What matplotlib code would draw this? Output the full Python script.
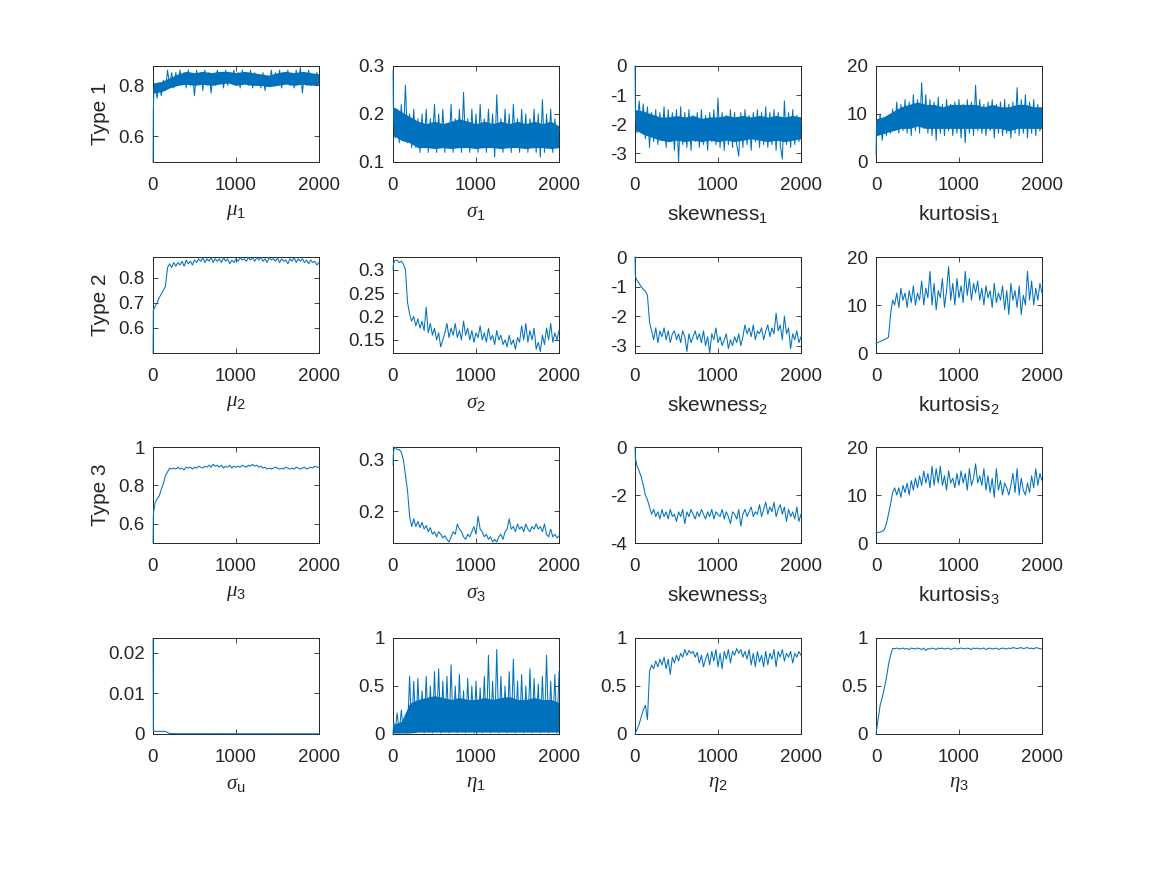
import numpy as np
import matplotlib
matplotlib.use('Agg')
import matplotlib.pyplot as plt
from matplotlib.ticker import FuncFormatter

plt.rcParams['font.family'] = ['Liberation Sans', 'DejaVu Sans']
plt.rcParams['mathtext.fontset'] = 'custom'
plt.rcParams['mathtext.rm'] = 'Liberation Sans'
plt.rcParams['mathtext.sf'] = 'Liberation Sans'
plt.rcParams['mathtext.it'] = 'Liberation Serif:italic'
plt.rcParams['axes.unicode_minus'] = False

# iteration index of each stored sample (dense at the start, then every 25)
iters = np.r_[1, 4, 10, np.arange(25, 2001, 25)]
# coarser grid for the dense core of the very noisy chains
band_iters = np.r_[5, np.arange(100, 2001, 100)]

# ---- Type 1 ----
mu1 = [0.50, 0.70, 0.78,
       0.80, 0.75, 0.81, 0.76, 0.82, 0.78, 0.86, 0.80, 0.85, 0.79,
       0.85, 0.80, 0.86, 0.81, 0.85, 0.79, 0.86, 0.80, 0.84, 0.76,
       0.86, 0.81, 0.85, 0.78, 0.86, 0.80, 0.85, 0.77, 0.84, 0.80,
       0.86, 0.81, 0.85, 0.79, 0.86, 0.80, 0.84, 0.81, 0.86, 0.80,
       0.85, 0.79, 0.86, 0.81, 0.84, 0.80, 0.86, 0.79, 0.85, 0.81,
       0.84, 0.79, 0.85, 0.78, 0.83, 0.80, 0.86, 0.81, 0.85, 0.80,
       0.86, 0.79, 0.85, 0.81, 0.86, 0.80, 0.84, 0.79, 0.86, 0.81,
       0.87, 0.77, 0.85, 0.80, 0.86, 0.81, 0.84, 0.80, 0.85, 0.82]
mu1_lo = [0.77, 0.775, 0.79, 0.80, 0.805, 0.80, 0.805, 0.80, 0.805, 0.81, 0.80,
          0.805, 0.80, 0.80, 0.795, 0.80, 0.805, 0.80, 0.805, 0.80, 0.805]
mu1_hi = [0.81, 0.815, 0.83, 0.845, 0.855, 0.85, 0.855, 0.85, 0.855, 0.855, 0.85,
          0.855, 0.85, 0.845, 0.84, 0.85, 0.855, 0.85, 0.855, 0.85, 0.845]
sigma1 = [0.29, 0.22, 0.19,
          0.15, 0.21, 0.14, 0.22, 0.15, 0.26, 0.14, 0.20, 0.13, 0.21,
          0.13, 0.19, 0.12, 0.20, 0.13, 0.21, 0.12, 0.19, 0.14, 0.22,
          0.12, 0.20, 0.13, 0.21, 0.12, 0.18, 0.13, 0.22, 0.12, 0.19,
          0.13, 0.21, 0.12, 0.245, 0.13, 0.19, 0.12, 0.21, 0.13, 0.20,
          0.12, 0.22, 0.13, 0.19, 0.12, 0.21, 0.13, 0.20, 0.11, 0.24,
          0.13, 0.19, 0.12, 0.21, 0.13, 0.20, 0.12, 0.22, 0.13, 0.19,
          0.12, 0.21, 0.13, 0.20, 0.12, 0.19, 0.13, 0.21, 0.12, 0.20,
          0.11, 0.23, 0.12, 0.20, 0.13, 0.21, 0.12, 0.19, 0.13, 0.17]
sigma1_lo = [0.155, 0.145, 0.14, 0.13, 0.13, 0.128, 0.13, 0.128, 0.13, 0.13, 0.128,
             0.13, 0.13, 0.128, 0.13, 0.13, 0.128, 0.13, 0.13, 0.128, 0.13]
sigma1_hi = [0.215, 0.205, 0.195, 0.185, 0.18, 0.185, 0.18, 0.185, 0.19, 0.185, 0.18,
             0.185, 0.18, 0.185, 0.18, 0.185, 0.18, 0.185, 0.18, 0.185, 0.175]
skew1 = [0.0, -1.3, -1.8,
         -2.3, -1.2, -2.1, -1.3, -2.5, -1.4, -2.8, -1.6, -2.6, -1.5,
         -2.7, -1.6, -2.5, -1.4, -2.8, -1.5, -2.6, -1.6, -2.9, -1.5,
         -3.3, -1.4, -2.7, -1.6, -2.8, -1.5, -2.9, -1.7, -2.6, -1.6,
         -2.8, -1.5, -2.7, -1.7, -2.9, -1.6, -2.6, -1.5, -2.7, -1.1,
         -2.8, -1.6, -2.9, -1.7, -2.7, -1.5, -2.8, -1.6, -2.7, -3.1,
         -1.6, -2.8, -1.5, -2.7, -1.7, -2.9, -1.6, -2.6, -1.5, -2.8,
         -1.6, -2.7, -1.4, -2.8, -1.6, -2.7, -1.5, -2.9, -1.6, -2.7,
         -3.2, -1.2, -2.7, -1.6, -2.8, -1.5, -2.7, -1.7, -2.6, -1.9]
skew1_lo = [-2.2, -2.35, -2.45, -2.55, -2.6, -2.55, -2.6, -2.55, -2.6, -2.55, -2.6,
            -2.55, -2.6, -2.55, -2.5, -2.55, -2.6, -2.55, -2.6, -2.55, -2.5]
skew1_hi = [-1.5, -1.55, -1.65, -1.75, -1.75, -1.7, -1.75, -1.7, -1.8, -1.75, -1.75,
            -1.7, -1.75, -1.7, -1.75, -1.7, -1.75, -1.7, -1.75, -1.7, -1.75]
kurt1 = [1.5, 6.0, 8.5,
         5.5, 10.0, 4.5, 8.5, 5.5, 9.0, 6.0, 11.0, 6.5, 12.5,
         6.0, 12.0, 6.5, 13.0, 6.0, 12.5, 5.5, 14.0, 6.5, 13.0,
         6.0, 16.5, 7.0, 14.0, 6.0, 13.0, 5.5, 12.5, 4.5, 13.5,
         6.0, 12.0, 5.5, 13.0, 6.5, 12.0, 5.5, 12.5, 6.0, 13.0,
         5.0, 12.0, 4.0, 13.0, 6.0, 12.5, 5.5, 16.0, 6.5, 13.0,
         6.0, 12.0, 5.5, 12.5, 6.5, 13.0, 5.0, 12.0, 6.0, 12.5,
         5.5, 13.0, 6.0, 12.0, 5.0, 12.5, 6.0, 15.5, 5.5, 13.0,
         6.0, 14.0, 5.0, 12.5, 6.0, 13.0, 5.5, 12.0, 6.5, 10.0]
kurt1_lo = [5.5, 6.0, 6.5, 7.0, 7.0, 7.5, 7.0, 7.0, 7.0, 7.0, 7.0,
            7.0, 7.0, 7.0, 7.0, 7.0, 6.5, 7.0, 7.0, 7.0, 7.0]
kurt1_hi = [9.0, 9.5, 10.5, 11.5, 12.0, 12.5, 12.0, 12.0, 11.5, 12.0, 12.0,
            12.0, 12.0, 11.5, 12.0, 11.5, 11.5, 12.0, 12.0, 11.5, 11.5]

# ---- Type 2 ----
mu2 = [0.50, 0.67, 0.675,
       0.685, 0.70, 0.72, 0.735, 0.75, 0.765, 0.84, 0.855, 0.84, 0.86,
       0.845, 0.86, 0.85, 0.865, 0.845, 0.87, 0.855, 0.865, 0.85, 0.87,
       0.86, 0.875, 0.865, 0.88, 0.86, 0.875, 0.865, 0.88, 0.86, 0.875,
       0.865, 0.875, 0.86, 0.88, 0.865, 0.875, 0.855, 0.87, 0.86, 0.875,
       0.865, 0.88, 0.87, 0.875, 0.865, 0.88, 0.87, 0.88, 0.865, 0.88,
       0.87, 0.88, 0.865, 0.875, 0.86, 0.88, 0.87, 0.875, 0.865, 0.88,
       0.86, 0.875, 0.865, 0.87, 0.855, 0.875, 0.865, 0.88, 0.86, 0.875,
       0.865, 0.875, 0.86, 0.87, 0.855, 0.87, 0.86, 0.865, 0.85, 0.86]
sigma2 = [0.300, 0.310, 0.315,
          0.320, 0.320, 0.315, 0.318, 0.312, 0.300, 0.230, 0.205, 0.190, 0.200,
          0.180, 0.195, 0.175, 0.190, 0.170, 0.220, 0.165, 0.185, 0.160, 0.175,
          0.150, 0.165, 0.135, 0.150, 0.165, 0.185, 0.155, 0.175, 0.160, 0.185,
          0.155, 0.170, 0.150, 0.190, 0.160, 0.175, 0.150, 0.170, 0.145, 0.165,
          0.155, 0.180, 0.150, 0.165, 0.145, 0.175, 0.150, 0.160, 0.140, 0.170,
          0.150, 0.160, 0.140, 0.150, 0.135, 0.160, 0.140, 0.150, 0.130, 0.155,
          0.145, 0.180, 0.150, 0.185, 0.145, 0.170, 0.150, 0.175, 0.130, 0.145,
          0.125, 0.160, 0.140, 0.175, 0.150, 0.185, 0.145, 0.165, 0.150, 0.170]
skew2 = [0.0, -0.6, -0.7,
         -0.8, -0.9, -1.0, -1.1, -1.15, -1.3, -2.2, -2.5, -2.8, -2.4,
         -2.9, -2.5, -2.7, -2.4, -2.8, -2.5, -2.9, -2.6, -2.5, -2.8,
         -2.6, -2.9, -2.5, -2.7, -3.2, -2.6, -2.9, -2.7, -2.5, -2.8,
         -2.6, -2.9, -2.5, -3.0, -2.7, -3.25, -2.6, -2.8, -2.4, -2.9,
         -2.7, -3.0, -2.8, -2.6, -3.1, -2.8, -3.0, -2.7, -2.9, -2.6,
         -3.0, -2.7, -2.3, -2.6, -2.4, -2.7, -2.3, -2.8, -2.5, -2.6,
         -2.4, -2.8, -2.5, -2.3, -2.7, -2.4, -2.6, -1.9, -2.5, -2.3,
         -2.8, -2.0, -2.6, -2.4, -3.1, -2.6, -2.8, -2.5, -2.9, -2.7]
kurt2 = [2.0, 2.0, 2.1,
         2.2, 2.4, 2.6, 2.8, 3.0, 3.3, 8.0, 11.0, 10.0, 12.5,
         9.5, 13.5, 11.0, 12.5, 9.5, 13.0, 10.5, 14.0, 10.0, 12.5,
         11.0, 15.0, 10.0, 13.5, 11.5, 17.0, 10.0, 14.5, 9.0, 13.0,
         11.5, 15.5, 9.5, 13.0, 18.0, 11.0, 14.5, 10.0, 15.5, 11.5,
         14.0, 10.5, 17.0, 12.0, 15.5, 11.0, 14.5, 12.5, 15.0, 11.0,
         13.5, 10.0, 14.0, 11.5, 13.0, 9.5, 14.5, 10.5, 12.5, 11.0,
         14.0, 9.0, 13.0, 8.0, 14.5, 11.0, 13.0, 9.5, 14.0, 8.0,
         12.0, 10.0, 17.0, 11.0, 15.0, 10.0, 13.5, 11.0, 14.5, 12.5]

# ---- Type 3 ----
mu3 = [0.50, 0.64, 0.67,
       0.71, 0.73, 0.745, 0.78, 0.81, 0.85, 0.87, 0.89, 0.885, 0.89,
       0.885, 0.895, 0.885, 0.89, 0.88, 0.895, 0.89, 0.895, 0.885, 0.895,
       0.89, 0.90, 0.895, 0.89, 0.90, 0.895, 0.905, 0.895, 0.91, 0.90,
       0.905, 0.895, 0.905, 0.89, 0.90, 0.895, 0.905, 0.89, 0.90, 0.895,
       0.90, 0.895, 0.905, 0.90, 0.895, 0.905, 0.90, 0.91, 0.90, 0.905,
       0.895, 0.90, 0.89, 0.895, 0.885, 0.89, 0.885, 0.89, 0.895, 0.89,
       0.885, 0.89, 0.885, 0.895, 0.89, 0.885, 0.89, 0.885, 0.895, 0.89,
       0.885, 0.89, 0.895, 0.885, 0.89, 0.895, 0.89, 0.90, 0.895, 0.895]
sigma3 = [0.29, 0.31, 0.32,
          0.325, 0.32, 0.32, 0.315, 0.30, 0.27, 0.24, 0.19, 0.170, 0.185,
          0.170, 0.180, 0.168, 0.178, 0.165, 0.172, 0.160, 0.168, 0.155, 0.160,
          0.150, 0.160, 0.155, 0.148, 0.152, 0.145, 0.140, 0.150, 0.160, 0.155,
          0.175, 0.165, 0.160, 0.150, 0.145, 0.155, 0.150, 0.160, 0.170, 0.155,
          0.190, 0.165, 0.160, 0.150, 0.155, 0.145, 0.150, 0.140, 0.145, 0.140,
          0.150, 0.155, 0.145, 0.160, 0.165, 0.185, 0.165, 0.170, 0.160, 0.175,
          0.165, 0.170, 0.160, 0.175, 0.165, 0.160, 0.170, 0.165, 0.175, 0.165,
          0.170, 0.160, 0.175, 0.155, 0.150, 0.165, 0.150, 0.155, 0.148, 0.152]
skew3 = [0.0, -0.45, -0.55,
         -0.8, -1.0, -1.25, -1.6, -2.0, -2.2, -2.5, -2.8, -2.6, -2.9,
         -2.7, -3.0, -2.6, -2.9, -2.7, -3.0, -2.6, -2.9, -2.8, -3.1,
         -2.7, -2.9, -2.6, -3.2, -2.7, -2.9, -2.6, -2.8, -3.0, -2.7,
         -2.9, -2.6, -2.8, -3.0, -2.7, -2.9, -2.6, -3.0, -2.7, -2.8,
         -2.9, -2.6, -3.0, -2.7, -2.9, -3.2, -2.7, -2.8, -3.0, -2.6,
         -3.3, -2.8, -2.6, -2.9, -2.7, -2.5, -2.9, -2.7, -2.8, -2.4,
         -2.9, -2.6, -2.3, -2.8, -2.5, -2.7, -2.3, -2.9, -2.6, -2.4,
         -2.8, -2.5, -3.1, -2.6, -2.9, -2.7, -3.0, -2.5, -3.1, -2.8]
kurt3 = [2.0, 2.0, 2.1,
         2.2, 2.3, 2.4, 2.8, 4.0, 6.0, 8.0, 10.5, 11.5, 10.0,
         11.5, 9.5, 12.0, 10.5, 12.5, 10.0, 13.0, 11.0, 13.5, 11.5,
         14.0, 12.0, 15.0, 12.5, 14.5, 11.5, 16.0, 12.0, 15.5, 12.5,
         16.0, 12.0, 14.0, 11.0, 15.0, 12.5, 13.5, 11.5, 14.5, 12.0,
         15.0, 12.5, 14.5, 11.0, 15.5, 12.0, 13.5, 16.5, 12.5, 14.0,
         12.0, 15.5, 11.0, 14.0, 10.5, 13.5, 9.5, 15.5, 11.0, 13.0,
         10.0, 12.5, 11.5, 10.0, 12.0, 14.5, 10.5, 15.5, 10.0, 13.5,
         11.0, 10.0, 12.5, 10.5, 14.0, 11.5, 15.5, 12.0, 14.5, 13.0]

# ---- shared parameters ----
sigma_u = [0.0235, 0.0008, 0.0007,
           0.0007, 0.0006, 0.0007, 0.0006, 0.0007, 0.0006, 0.0004, 0.0001, 0.0001, 0.0001,
           0.00010, 0.00008, 0.00009, 0.00007, 0.00008, 0.00010, 0.00008, 0.00007, 0.00009, 0.00008,
           0.00007, 0.00008, 0.00006, 0.00008, 0.00007, 0.00009, 0.00007, 0.00008, 0.00006, 0.00007,
           0.00008, 0.00007, 0.00006, 0.00008, 0.00007, 0.00006, 0.00007, 0.00008, 0.00006, 0.00007,
           0.00006, 0.00007, 0.00008, 0.00006, 0.00007, 0.00006, 0.00007, 0.00006, 0.00008, 0.00007,
           0.00006, 0.00007, 0.00006, 0.00007, 0.00008, 0.00006, 0.00007, 0.00006, 0.00007, 0.00006,
           0.00007, 0.00006, 0.00007, 0.00006, 0.00005, 0.00007, 0.00006, 0.00007, 0.00006, 0.00005,
           0.00006, 0.00007, 0.00006, 0.00005, 0.00006, 0.00007, 0.00006, 0.00005, 0.00006, 0.00006]
eta1 = [0.0, 0.05, 0.12,
        0.02, 0.22, 0.01, 0.25, 0.03, 0.20, 0.01, 0.60, 0.02, 0.55,
        0.01, 0.58, 0.03, 0.45, 0.01, 0.60, 0.02, 0.50, 0.01, 0.65,
        0.03, 0.68, 0.01, 0.55, 0.02, 0.60, 0.01, 0.72, 0.03, 0.50,
        0.01, 0.62, 0.02, 0.45, 0.01, 0.58, 0.03, 0.50, 0.01, 0.55,
        0.02, 0.48, 0.01, 0.60, 0.03, 0.82, 0.01, 0.55, 0.02, 0.88,
        0.01, 0.60, 0.03, 0.50, 0.01, 0.65, 0.02, 0.78, 0.01, 0.55,
        0.03, 0.62, 0.01, 0.50, 0.02, 0.68, 0.01, 0.58, 0.03, 0.52,
        0.01, 0.60, 0.02, 0.82, 0.01, 0.55, 0.02, 0.62, 0.01, 0.65]
eta1_lo = [0.01, 0.01, 0.01, 0.02, 0.02, 0.02, 0.02, 0.02, 0.02, 0.02, 0.02,
           0.02, 0.02, 0.02, 0.02, 0.02, 0.02, 0.02, 0.02, 0.02, 0.02]
eta1_hi = [0.10, 0.13, 0.32, 0.36, 0.38, 0.40, 0.38, 0.36, 0.38, 0.36, 0.36,
           0.38, 0.36, 0.38, 0.39, 0.36, 0.36, 0.38, 0.36, 0.36, 0.33]
eta2 = [0.0, 0.01, 0.02,
        0.05, 0.10, 0.18, 0.25, 0.30, 0.15, 0.65, 0.72, 0.68, 0.76,
        0.70, 0.78, 0.72, 0.80, 0.68, 0.78, 0.62, 0.80, 0.74, 0.82,
        0.76, 0.84, 0.80, 0.88, 0.82, 0.87, 0.84, 0.86, 0.80, 0.85,
        0.74, 0.82, 0.70, 0.78, 0.84, 0.72, 0.86, 0.76, 0.88, 0.70,
        0.84, 0.68, 0.86, 0.78, 0.88, 0.74, 0.86, 0.82, 0.89, 0.84,
        0.88, 0.80, 0.86, 0.78, 0.88, 0.72, 0.84, 0.70, 0.86, 0.75,
        0.82, 0.70, 0.86, 0.72, 0.84, 0.78, 0.88, 0.70, 0.86, 0.80,
        0.88, 0.76, 0.84, 0.80, 0.86, 0.74, 0.84, 0.80, 0.86, 0.82]
eta3 = [0.0, 0.02, 0.06,
        0.15, 0.30, 0.38, 0.48, 0.58, 0.72, 0.82, 0.89, 0.89, 0.895,
        0.885, 0.89, 0.895, 0.885, 0.89, 0.88, 0.895, 0.89, 0.885, 0.895,
        0.89, 0.88, 0.895, 0.87, 0.89, 0.885, 0.895, 0.89, 0.88, 0.895,
        0.89, 0.895, 0.885, 0.89, 0.895, 0.88, 0.89, 0.895, 0.885, 0.89,
        0.895, 0.89, 0.885, 0.895, 0.89, 0.88, 0.895, 0.89, 0.895, 0.885,
        0.89, 0.895, 0.88, 0.89, 0.895, 0.885, 0.89, 0.895, 0.88, 0.89,
        0.895, 0.89, 0.885, 0.895, 0.89, 0.90, 0.895, 0.89, 0.895, 0.90,
        0.89, 0.895, 0.90, 0.89, 0.895, 0.885, 0.90, 0.895, 0.89, 0.885]

# panel order, labels, y limits and y ticks
series = [mu1, sigma1, skew1, kurt1,
          mu2, sigma2, skew2, kurt2,
          mu3, sigma3, skew3, kurt3,
          sigma_u, eta1, eta2, eta3]
bands = {0: (mu1_lo, mu1_hi), 1: (sigma1_lo, sigma1_hi),
         2: (skew1_lo, skew1_hi), 3: (kurt1_lo, kurt1_hi),
         13: (eta1_lo, eta1_hi)}
xlabels = [r'$\mu_{1}$', r'$\sigma_{1}$', r'skewness$_{1}$', r'kurtosis$_{1}$',
           r'$\mu_{2}$', r'$\sigma_{2}$', r'skewness$_{2}$', r'kurtosis$_{2}$',
           r'$\mu_{3}$', r'$\sigma_{3}$', r'skewness$_{3}$', r'kurtosis$_{3}$',
           r'$\sigma_{\mathrm{u}}$', r'$\eta_{1}$', r'$\eta_{2}$', r'$\eta_{3}$']
row_names = ['Type 1', 'Type 2', 'Type 3']
ylims = [(0.5, 0.876), (0.1, 0.3), (-3.3, 0), (0, 20),
         (0.5, 0.882), (0.122, 0.327), (-3.25, 0), (0, 20),
         (0.5, 1), (0.138, 0.325), (-4, 0), (0, 20),
         (0, 0.0237), (0, 1), (0, 1), (0, 1)]
yticks = [[0.6, 0.8], [0.1, 0.2, 0.3], [-3, -2, -1, 0], [0, 10, 20],
          [0.6, 0.7, 0.8], [0.15, 0.2, 0.25, 0.3], [-3, -2, -1, 0], [0, 10, 20],
          [0.6, 0.8, 1], [0.2, 0.3], [-4, -2, 0], [0, 10, 20],
          [0, 0.01, 0.02], [0, 0.5, 1], [0, 0.5, 1], [0, 0.5, 1]]

W, H = 1167, 875
col_left = [153, 393, 635, 876]
row_top = [66, 257, 447, 638]
ax_w, ax_h = 166, 96
dark = '#262626'
blue = '#0072BD'

fig = plt.figure(figsize=(W / 100, H / 100), dpi=100)
fmt = FuncFormatter(lambda v, p: '%g' % v)

for i in range(16):
    r, c = divmod(i, 4)
    ax = fig.add_axes([col_left[c] / W, 1 - (row_top[r] + ax_h) / H, ax_w / W, ax_h / H])
    if i in bands:
        lo, hi = bands[i]
        ax.fill_between(band_iters, lo, hi, color=blue, lw=0, zorder=2)
    # not clipped, so the first draws at iteration 1 show over the left spine
    ax.plot(iters, series[i], color=blue, lw=0.75, zorder=3, clip_on=False)
    ax.set_xlim(0, 2000)
    ax.set_ylim(*ylims[i])
    ax.set_xticks([0, 1000, 2000])
    ax.set_yticks(yticks[i])
    ax.yaxis.set_major_formatter(fmt)
    ax.tick_params(direction='in', top=True, right=True, length=3.5, width=0.6,
                   labelsize=13.5, colors=dark, pad=11)
    ax.tick_params(axis='y', pad=6)
    for s in ax.spines.values():
        s.set_linewidth(0.7)
        s.set_color(dark)
    ax.set_xlabel(xlabels[i], fontsize=15, color=dark, labelpad=6)
    if c == 0 and r < 3:
        ax.set_ylabel(row_names[r], fontsize=15, color=dark, labelpad=6)

fig.savefig('out.png', dpi=100, facecolor='white')
